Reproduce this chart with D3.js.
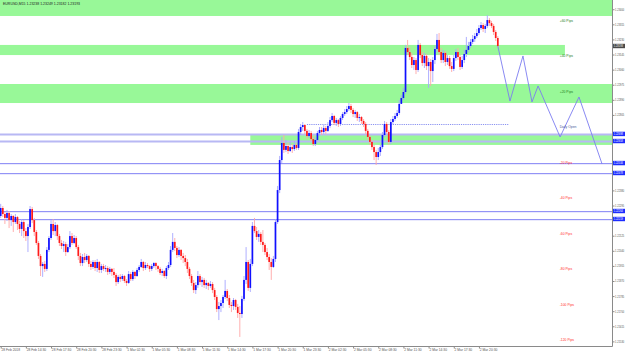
<!DOCTYPE html>
<html>
<head>
<meta charset="utf-8">
<script src="https://cdn.jsdelivr.net/npm/d3@7"></script>
<style>
  html, body { margin: 0; padding: 0; background: #fff; }
  svg { display: block; font-family: "Liberation Sans", Arial, sans-serif; }
</style>
</head>
<body>
<div id="chart"></div>
<script>
// Symbol / timeframe
const symbol = "EURUSD,M15";

// M15 bars from 28 Feb 11:30, open of the first bar
const firstOpen = 1.22236;

const closes = [
  1.22281, 1.22247, 1.22225, 1.22253, 1.22213, 1.22236, 1.22202, 1.22230, 1.22191, 1.22163,
  1.22202, 1.22151, 1.22123, 1.22174, 1.22275, 1.22213, 1.22146, 1.22084, 1.22011, 1.21954,
  1.21966, 1.21938, 1.22045, 1.22112, 1.22191, 1.22151, 1.22185, 1.22123, 1.22084, 1.22067,
  1.22078, 1.22033, 1.22061, 1.22123, 1.22084, 1.22112, 1.22061, 1.22011, 1.21971, 1.22005,
  1.21988, 1.22011, 1.21966, 1.21949, 1.21977, 1.21943, 1.21977, 1.21932, 1.21954, 1.21938,
  1.21943, 1.21921, 1.21938, 1.21921, 1.21904, 1.21864, 1.21893, 1.21881, 1.21898, 1.21870,
  1.21859, 1.21909, 1.21881, 1.21921, 1.21898, 1.21932, 1.21949, 1.21977, 1.21943, 1.21960,
  1.21954, 1.21938, 1.21954, 1.21971, 1.21954, 1.21938, 1.21915, 1.21926, 1.21898, 1.21943,
  1.21960, 1.22045, 1.22090, 1.22056, 1.22016, 1.22045, 1.22011, 1.21999, 1.21977, 1.21938,
  1.21898, 1.21859, 1.21819, 1.21847, 1.21898, 1.21864, 1.21876, 1.21847, 1.21859, 1.21842,
  1.21853, 1.21819, 1.21780, 1.21712, 1.21729, 1.21746, 1.21780, 1.21814, 1.21774, 1.21735,
  1.21729, 1.21763, 1.21724, 1.21690, 1.21684, 1.21769, 1.21876, 1.21977, 1.21831, 1.21966,
  1.22180, 1.22151, 1.22118, 1.22135, 1.22090, 1.22073, 1.22033, 1.22005, 1.21977, 1.21949,
  1.21994, 1.22202, 1.22382, 1.22551, 1.22647, 1.22608, 1.22630, 1.22602, 1.22624, 1.22613,
  1.22636, 1.22619, 1.22709, 1.22737, 1.22748, 1.22715, 1.22686, 1.22703, 1.22669, 1.22641,
  1.22664, 1.22703, 1.22720, 1.22709, 1.22731, 1.22715, 1.22743, 1.22776, 1.22799, 1.22760,
  1.22776, 1.22754, 1.22788, 1.22810, 1.22821, 1.22838, 1.22855, 1.22833, 1.22810, 1.22821,
  1.22788, 1.22793, 1.22771, 1.22754, 1.22715, 1.22681, 1.22653, 1.22624, 1.22596, 1.22568,
  1.22596, 1.22624, 1.22692, 1.22754, 1.22709, 1.22653, 1.22765, 1.22782, 1.22799, 1.22816,
  1.22867, 1.22900, 1.22934, 1.23182, 1.23159, 1.23131, 1.23086, 1.23114, 1.23058, 1.23199,
  1.23142, 1.23097, 1.23137, 1.23080, 1.23103, 1.23052, 1.23114, 1.23176, 1.23227, 1.23159,
  1.23114, 1.23154, 1.23103, 1.23125, 1.23080, 1.23064, 1.23125, 1.23159, 1.23131, 1.23075,
  1.23114, 1.23148, 1.23171, 1.23193, 1.23216, 1.23232, 1.23249, 1.23266, 1.23294, 1.23311,
  1.23289, 1.23306, 1.23339, 1.23322, 1.23306, 1.23272, 1.23238, 1.23193
];

const highs = [
  1.22304, 1.22292, 1.22258, 1.22270, 1.22264, 1.22247, 1.22241, 1.22247, 1.22236, 1.22208,
  1.22219, 1.22213, 1.22168, 1.22191, 1.22292, 1.22287, 1.22225, 1.22157, 1.22095, 1.22022,
  1.21977, 1.21983, 1.22061, 1.22123, 1.22213, 1.22219, 1.22202, 1.22191, 1.22135, 1.22101,
  1.22095, 1.22090, 1.22078, 1.22151, 1.22140, 1.22129, 1.22123, 1.22073, 1.22028, 1.22022,
  1.22028, 1.22022, 1.22016, 1.21983, 1.21988, 1.21988, 1.21994, 1.21983, 1.21966, 1.21966,
  1.21960, 1.21954, 1.21949, 1.21943, 1.21943, 1.21915, 1.21904, 1.21909, 1.21909, 1.21904,
  1.21881, 1.21926, 1.21921, 1.21932, 1.21926, 1.21943, 1.21960, 1.21994, 1.21983, 1.21977,
  1.21971, 1.21960, 1.21966, 1.21977, 1.21977, 1.21960, 1.21949, 1.21938, 1.21932, 1.21954,
  1.21977, 1.22067, 1.22140, 1.22112, 1.22067, 1.22061, 1.22050, 1.22028, 1.22016, 1.21994,
  1.21949, 1.21909, 1.21876, 1.21864, 1.21926, 1.21909, 1.21893, 1.21887, 1.21876, 1.21864,
  1.21870, 1.21864, 1.21831, 1.21791, 1.21752, 1.21763, 1.21791, 1.21876, 1.21825, 1.21791,
  1.21752, 1.21774, 1.21769, 1.21741, 1.21729, 1.21786, 1.21898, 1.22061, 1.21988, 1.21994,
  1.22202, 1.22225, 1.22174, 1.22157, 1.22146, 1.22157, 1.22084, 1.22056, 1.22022, 1.21999,
  1.22011, 1.22219, 1.22405, 1.22574, 1.22681, 1.22692, 1.22664, 1.22647, 1.22653, 1.22641,
  1.22658, 1.22647, 1.22726, 1.22754, 1.22765, 1.22754, 1.22726, 1.22720, 1.22715, 1.22686,
  1.22681, 1.22715, 1.22737, 1.22737, 1.22748, 1.22743, 1.22765, 1.22793, 1.22816, 1.22805,
  1.22788, 1.22782, 1.22799, 1.22821, 1.22838, 1.22855, 1.22872, 1.22867, 1.22844, 1.22833,
  1.22827, 1.22810, 1.22799, 1.22782, 1.22765, 1.22726, 1.22692, 1.22664, 1.22636, 1.22608,
  1.22619, 1.22636, 1.22709, 1.22771, 1.22765, 1.22720, 1.22782, 1.22799, 1.22816, 1.22833,
  1.22889, 1.22917, 1.22957, 1.23199, 1.23227, 1.23187, 1.23154, 1.23131, 1.23125, 1.23227,
  1.23210, 1.23159, 1.23154, 1.23148, 1.23125, 1.23120, 1.23131, 1.23193, 1.23261, 1.23266,
  1.23182, 1.23171, 1.23165, 1.23142, 1.23137, 1.23103, 1.23142, 1.23176, 1.23182, 1.23142,
  1.23137, 1.23171, 1.23244, 1.23216, 1.23232, 1.23255, 1.23266, 1.23289, 1.23311, 1.23328,
  1.23322, 1.23317, 1.23367, 1.23350, 1.23334, 1.23317, 1.23283, 1.23249
];

const lows = [
  1.22225, 1.22230, 1.22191, 1.22208, 1.22168, 1.22180, 1.22146, 1.22191, 1.22157, 1.22140,
  1.22123, 1.22112, 1.22095, 1.22033, 1.22163, 1.22196, 1.22123, 1.22073, 1.21994, 1.21898,
  1.21893, 1.21921, 1.21926, 1.22033, 1.22101, 1.22129, 1.22123, 1.22101, 1.22067, 1.22050,
  1.22033, 1.22011, 1.22028, 1.22050, 1.22073, 1.22078, 1.22050, 1.21988, 1.21954, 1.21954,
  1.21971, 1.21977, 1.21949, 1.21932, 1.21938, 1.21926, 1.21921, 1.21915, 1.21915, 1.21926,
  1.21921, 1.21904, 1.21909, 1.21898, 1.21887, 1.21842, 1.21853, 1.21864, 1.21870, 1.21859,
  1.21842, 1.21853, 1.21870, 1.21870, 1.21881, 1.21893, 1.21921, 1.21943, 1.21926, 1.21932,
  1.21943, 1.21921, 1.21926, 1.21943, 1.21932, 1.21921, 1.21904, 1.21898, 1.21887, 1.21881,
  1.21932, 1.21949, 1.22033, 1.22039, 1.21999, 1.22005, 1.21988, 1.21971, 1.21954, 1.21915,
  1.21881, 1.21842, 1.21802, 1.21797, 1.21831, 1.21847, 1.21836, 1.21831, 1.21825, 1.21819,
  1.21831, 1.21802, 1.21763, 1.21695, 1.21650, 1.21695, 1.21718, 1.21769, 1.21757, 1.21718,
  1.21695, 1.21707, 1.21707, 1.21662, 1.21555, 1.21662, 1.21757, 1.21853, 1.21814, 1.21808,
  1.21954, 1.22140, 1.22101, 1.22090, 1.22073, 1.22033, 1.22016, 1.21988, 1.21932, 1.21876,
  1.21943, 1.21977, 1.22191, 1.22365, 1.22534, 1.22591, 1.22596, 1.22585, 1.22596, 1.22591,
  1.22602, 1.22608, 1.22608, 1.22692, 1.22715, 1.22698, 1.22669, 1.22675, 1.22658, 1.22630,
  1.22630, 1.22658, 1.22686, 1.22692, 1.22698, 1.22698, 1.22709, 1.22731, 1.22765, 1.22748,
  1.22743, 1.22737, 1.22743, 1.22776, 1.22799, 1.22810, 1.22827, 1.22816, 1.22793, 1.22788,
  1.22771, 1.22765, 1.22754, 1.22737, 1.22698, 1.22664, 1.22636, 1.22608, 1.22551, 1.22523,
  1.22551, 1.22574, 1.22613, 1.22681, 1.22698, 1.22636, 1.22641, 1.22754, 1.22771, 1.22788,
  1.22805, 1.22867, 1.22889, 1.22923, 1.23142, 1.23114, 1.23069, 1.23058, 1.23035, 1.23047,
  1.23125, 1.23080, 1.23069, 1.23058, 1.22957, 1.22968, 1.22990, 1.23092, 1.23159, 1.23142,
  1.23097, 1.23097, 1.23080, 1.23086, 1.23064, 1.23047, 1.23052, 1.23109, 1.23114, 1.23058,
  1.23064, 1.23097, 1.23131, 1.23159, 1.23182, 1.23204, 1.23216, 1.23238, 1.23255, 1.23283,
  1.23272, 1.23266, 1.23294, 1.23306, 1.23294, 1.23255, 1.23221, 1.23182
];

// Time axis labels, one every 12 bars (3 hours)
const timeLabels = [
  "28 Feb 2018", "28 Feb 14:30", "28 Feb 17:30", "28 Feb 20:30", "28 Feb 23:30",
  "1 Mar 02:30", "1 Mar 05:30", "1 Mar 08:30", "1 Mar 11:30", "1 Mar 14:30",
  "1 Mar 17:30", "1 Mar 20:30", "1 Mar 23:30", "2 Mar 02:30", "2 Mar 05:30",
  "2 Mar 08:30", "2 Mar 11:30", "2 Mar 14:30", "2 Mar 17:30", "2 Mar 20:30"
];
const barsPerLabel = 12;

// Price axis ticks
const priceTicks = [
  1.21530, 1.21615, 1.21700, 1.21785, 1.21870, 1.21955, 1.22040, 1.22125,
  1.22210, 1.22295, 1.22380, 1.22465, 1.22550, 1.22635, 1.22720, 1.22805,
  1.22890, 1.22975, 1.23060, 1.23145, 1.23230, 1.23315, 1.23400
];

// Supply / demand zones (green rectangles)
const zoneTop = [1.23500, 1.23199, 1.22979, 1.22692];
const zoneBottom = [1.23362, 1.23142, 1.22872, 1.22636];
const zoneFromBar = [-10, -10, -10, 119];
const zoneToBar = [300, 269, 300, 300];

// Horizontal levels
const sessionLevels = [1.22698, 1.22658];
const keyLevels = [1.22534, 1.22478, 1.22264, 1.22219];

// Daily open and pip offsets
const dailyOpen = 1.22754;
const dailyOpenFromBar = 146;
const dailyOpenToBar = 242;
const pipSteps = [60, 40, 20, 0, -20, -40, -60, -80, -100, -120];
const pipLabelBar = 266.5;

// Projected path (zigzag)
const projBars = [237, 242.8, 249.0, 253.3, 256.2, 266.7, 275.7, 286.7];
const projPrices = [1.23193, 1.22883, 1.23137, 1.22878, 1.22968, 1.22681, 1.22906, 1.22529];

const dimensions = {
  width: 625,
  height: 352,
  plotRight: 612.5,
  plotBottom: 346.5,
};

const fmt = d3.format(".5f");

const bars = closes.map((c, i) => {
  const o = i === 0 ? firstOpen : closes[i - 1];
  return {
    i: i,
    o: o,
    c: c,
    h: Math.max(highs[i], o, c),
    l: Math.min(lows[i], o, c),
  };
});

const svg = d3
  .select("#chart")
  .append("svg")
  .attr("width", dimensions.width)
  .attr("height", dimensions.height);

svg.append("rect")
  .attr("width", dimensions.width)
  .attr("height", dimensions.height)
  .attr("fill", "#ffffff");

// Scales
const xScale = d3.scaleLinear().domain([0, 292]).range([0.7, 0.7 + 292 * 2.0975]);
const yScale = d3.scaleLinear().domain([1.21504, 1.23452]).range([346, 0]);

svg.append("clipPath")
  .attr("id", "plot-clip")
  .append("rect")
  .attr("x", 0)
  .attr("y", 0)
  .attr("width", dimensions.plotRight)
  .attr("height", dimensions.plotBottom);

const plot = svg.append("g").attr("clip-path", "url(#plot-clip)");

// Zones
plot.selectAll("rect.zone")
  .data(zoneTop)
  .join("rect")
  .attr("class", "zone")
  .attr("x", (d, i) => xScale(zoneFromBar[i]))
  .attr("width", (d, i) => xScale(zoneToBar[i]) - xScale(zoneFromBar[i]))
  .attr("y", (d) => yScale(d))
  .attr("height", (d, i) => yScale(zoneBottom[i]) - yScale(d))
  .attr("fill", "#98f898");

// Levels (drawn as thin filled strips)
plot.selectAll("rect.session")
  .data(sessionLevels)
  .join("rect")
  .attr("class", "session")
  .attr("x", 0)
  .attr("width", dimensions.plotRight)
  .attr("y", (d) => Math.round(yScale(d)) - 0.5)
  .attr("height", 2)
  .attr("fill", "#b8b8f4");

plot.selectAll("rect.key")
  .data(keyLevels)
  .join("rect")
  .attr("class", "key")
  .attr("x", 0)
  .attr("width", dimensions.plotRight)
  .attr("y", (d) => Math.round(yScale(d)))
  .attr("height", 1.2)
  .attr("fill", "#9494f6");

// Daily open dotted line
plot.append("line")
  .attr("x1", xScale(dailyOpenFromBar))
  .attr("x2", xScale(dailyOpenToBar))
  .attr("y1", Math.round(yScale(dailyOpen)) + 0.5)
  .attr("y2", Math.round(yScale(dailyOpen)) + 0.5)
  .attr("stroke", "#8a92f0")
  .attr("stroke-width", 1)
  .attr("stroke-dasharray", "1.2,1");

// Candles
const candles = plot.append("g").selectAll("g").data(bars).join("g");

candles.append("line")
  .attr("x1", (d) => xScale(d.i))
  .attr("x2", (d) => xScale(d.i))
  .attr("y1", (d) => yScale(d.h))
  .attr("y2", (d) => yScale(d.l))
  .attr("stroke", (d) => (d.c >= d.o ? "#a6a6ff" : "#ffa6a6"))
  .attr("stroke-width", 0.9);

candles.append("rect")
  .attr("x", (d) => xScale(d.i) - 0.85)
  .attr("width", 1.7)
  .attr("y", (d) => yScale(Math.max(d.o, d.c)))
  .attr("height", (d) => Math.max(1, Math.abs(yScale(d.o) - yScale(d.c))))
  .attr("fill", (d) => (d.c >= d.o ? "#1010ff" : "#ff1a1a"));

// Projection zigzag
const projLine = d3.line()
  .x((d, i) => xScale(projBars[i]))
  .y((d) => yScale(d));

plot.append("path")
  .datum(projPrices)
  .attr("d", projLine)
  .attr("fill", "none")
  .attr("stroke", "#7c7cf0")
  .attr("stroke-width", 0.9);

// Pip labels
plot.selectAll("text.pips")
  .data(pipSteps)
  .join("text")
  .attr("class", "pips")
  .attr("x", xScale(pipLabelBar))
  .attr("y", (d) => yScale(dailyOpen + d * 0.0001) + 4.2)
  .attr("font-size", 3.4)
  .attr("fill", (d) => (d > 0 ? "#1f7a1f" : d === 0 ? "#4a5a9a" : "#ff2a2a"))
  .text((d) => (d > 0 ? `+${d} Pips` : d === 0 ? "Daily Open" : `${d} Pips`));

// Header
const last = bars[bars.length - 1];
svg.append("text")
  .attr("x", 3)
  .attr("y", 4.6)
  .attr("font-size", 3.5)
  .attr("fill", "#222")
  .text(`${symbol}  ${fmt(last.o)} ${fmt(last.h)} ${fmt(last.l)} ${fmt(last.c)}`);

// Price axis (tick labels hidden behind the highlighted boxes are dropped)
const lastClose = closes[closes.length - 1];
const boxPrices = sessionLevels.concat(keyLevels);
const allBoxes = boxPrices.concat([lastClose]);
const visibleTicks = priceTicks.filter(
  (t) => !allBoxes.some((b) => Math.abs(yScale(b) - yScale(t)) < 4.6)
);

const yAxis = svg.append("g")
  .attr("transform", `translate(${dimensions.plotRight}, 0)`)
  .call(
    d3.axisRight(yScale)
      .tickValues(visibleTicks)
      .tickFormat(fmt)
      .tickSize(2)
      .tickPadding(0.6)
      .tickSizeOuter(0)
  );
yAxis.select(".domain").attr("stroke", "#8a8a8a").attr("d", `M0,0V${dimensions.plotBottom}`);
yAxis.selectAll(".tick line").attr("stroke", "#8a8a8a");
yAxis.selectAll("text")
  .attr("font-size", 3.0)
  .attr("fill", "#555")
  .attr("font-family", "Liberation Sans, Arial, sans-serif")
  .attr("textLength", 9.2)
  .attr("lengthAdjust", "spacingAndGlyphs");

// Highlighted price boxes on the axis
const boxes = svg.append("g");
boxes.selectAll("rect")
  .data(boxPrices)
  .join("rect")
  .attr("x", dimensions.plotRight + 0.5)
  .attr("y", (d) => yScale(d) - 2.2)
  .attr("width", 12)
  .attr("height", 4.4)
  .attr("fill", "#1c2cff");
boxes.selectAll("text")
  .data(boxPrices)
  .join("text")
  .attr("x", dimensions.plotRight + 1.3)
  .attr("y", (d) => yScale(d) + 1.1)
  .attr("font-size", 3.0)
  .attr("fill", "#fff")
  .attr("textLength", 9.2)
  .attr("lengthAdjust", "spacingAndGlyphs")
  .text((d) => fmt(d));

svg.append("rect")
  .attr("x", dimensions.plotRight + 0.5)
  .attr("y", yScale(lastClose) - 2.2)
  .attr("width", 12)
  .attr("height", 4.4)
  .attr("fill", "#4a4a4a");
svg.append("text")
  .attr("x", dimensions.plotRight + 1.3)
  .attr("y", yScale(lastClose) + 1.1)
  .attr("font-size", 3.0)
  .attr("fill", "#fff")
  .attr("textLength", 9.2)
  .attr("lengthAdjust", "spacingAndGlyphs")
  .text(fmt(lastClose));

// Time axis
const xAxis = svg.append("g")
  .attr("transform", `translate(0, ${dimensions.plotBottom})`)
  .call(
    d3.axisBottom(xScale)
      .tickValues(timeLabels.map((d, i) => i * barsPerLabel))
      .tickFormat((d, i) => timeLabels[i])
      .tickSize(2)
      .tickPadding(1)
      .tickSizeOuter(0)
  );
xAxis.select(".domain").attr("stroke", "#8a8a8a").attr("d", `M0,0H${dimensions.plotRight}`);
xAxis.selectAll(".tick line").attr("stroke", "#8a8a8a");
xAxis.selectAll("text")
  .attr("text-anchor", "start")
  .attr("x", 0.3)
  .attr("y", 2.2)
  .attr("font-size", 3.3)
  .attr("fill", "#555")
  .attr("font-family", "Liberation Sans, Arial, sans-serif");
</script>
</body>
</html>
